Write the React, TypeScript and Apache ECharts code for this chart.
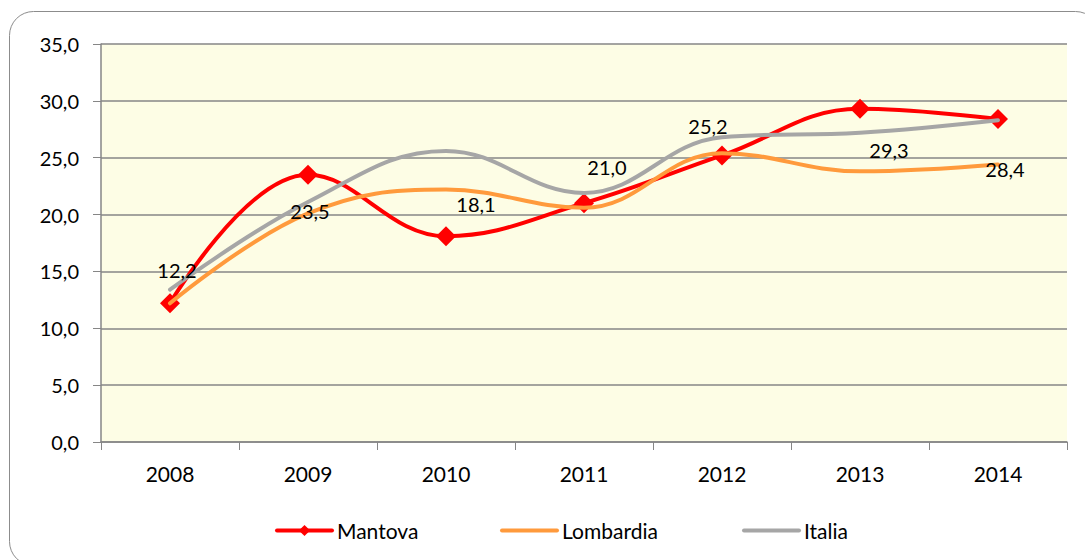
import React, { useEffect, useRef } from "react";
import * as echarts from "echarts";

const years = ["2008", "2009", "2010", "2011", "2012", "2013", "2014"];
const mantova = [12.2, 23.5, 18.1, 21.0, 25.2, 29.3, 28.4];
const lombardia = [12.2, 20.1, 22.2, 20.6, 25.4, 23.8, 24.4];
const italia = [13.4, 21.1, 25.6, 21.9, 26.8, 27.2, 28.3];
const yTicks = [0, 5, 10, 15, 20, 25, 30, 35];
// label placement offsets (style, not data)
const labelOffsets: [number, number][] = [
  [7, -33],
  [2, 36],
  [30, -32],
  [23, -36],
  [-14, -29],
  [29, 41],
  [7, 50],
];

const FONT = "Lato, 'Noto Sans', sans-serif";
const fmt = (v: number) => v.toFixed(1).replace(".", ",");

export default function App() {
  const ref = useRef<HTMLDivElement>(null);
  useEffect(() => {
    if (!ref.current) return;
    const chart = echarts.init(ref.current, undefined, { renderer: "svg" });
    const legendBase = {
      top: 520,
      padding: 0,
      itemWidth: 55,
      itemHeight: 14,
      itemGap: 0,
      textStyle: { fontFamily: FONT, fontSize: 21, color: "#000" },
      selectedMode: false,
      lineStyle: { width: 4 },
    };
    chart.setOption({
      animation: false,
      backgroundColor: "#fff",
      graphic: [
        {
          type: "rect",
          shape: { x: 9.5, y: 11.5, width: 1090, height: 554, r: 24 },
          style: { fill: "none", stroke: "#8c8c8c", lineWidth: 1 },
          silent: true,
          z: -1,
        },
      ],
      grid: {
        left: 101,
        top: 44,
        right: 18,
        bottom: 118,
        show: true,
        backgroundColor: "#FDFDE5",
        borderWidth: 0,
      },
      legend: [
        { ...legendBase, left: 275, data: ["Mantova"] },
        { ...legendBase, left: 500, data: ["Lombardia"], itemStyle: { opacity: 0 } },
        { ...legendBase, left: 742, data: ["Italia"], itemStyle: { opacity: 0 } },
      ],
      xAxis: {
        type: "category",
        data: years,
        boundaryGap: true,
        axisLine: { show: true, lineStyle: { color: "#868686", width: 1.5 } },
        axisTick: { show: true, length: 8, lineStyle: { color: "#868686" } },
        axisLabel: {
          margin: 21,
          fontFamily: FONT,
          fontSize: 21,
          color: "#000",
        },
      },
      yAxis: {
        type: "value",
        min: yTicks[0],
        max: yTicks[yTicks.length - 1],
        interval: 5,
        axisLine: { show: true, lineStyle: { color: "#868686", width: 1.5 } },
        axisTick: { show: true, length: 8, lineStyle: { color: "#868686" } },
        splitLine: { show: true, lineStyle: { color: "#868686", width: 1.5 } },
        axisLabel: {
          margin: 22,
          fontFamily: FONT,
          fontSize: 20,
          color: "#000",
          formatter: (v: number) => fmt(v),
        },
      },
      series: [
        {
          name: "Mantova",
          type: "line",
          smooth: 0.4,
          z: 2,
          data: mantova,
          symbol: "diamond",
          symbolSize: 20,
          itemStyle: { color: "#FF0000" },
          lineStyle: { color: "#FF0000", width: 4, cap: "round" },
        },
        {
          name: "Lombardia",
          type: "line",
          smooth: 0.4,
          z: 3,
          data: lombardia,
          symbol: "none",
          itemStyle: { color: "#FF9A3C" },
          lineStyle: { color: "#FF9A3C", width: 4, cap: "round" },
        },
        {
          name: "Italia",
          type: "line",
          smooth: 0.4,
          z: 4,
          data: italia,
          symbol: "none",
          itemStyle: { color: "#A6A6A6" },
          lineStyle: { color: "#A6A6A6", width: 4, cap: "round" },
        },
        {
          name: "MantovaLabels",
          type: "scatter",
          z: 10,
          symbolSize: 0,
          silent: true,
          data: mantova.map((v, i) => ({
            value: v,
            label: { offset: labelOffsets[i] },
          })),
          itemStyle: { color: "#000" },
          label: {
            show: true,
            position: "inside",
            fontFamily: FONT,
            fontSize: 20,
            color: "#000",
            textBorderWidth: 0,
            opacity: 1,
            formatter: (p: any) => fmt(p.value),
          },
        },
      ],
    });
    return () => chart.dispose();
  }, []);
  return (
    <div
      ref={ref}
      style={{ position: "absolute", left: 0, top: 0, width: 1085, height: 560 }}
    />
  );
}
